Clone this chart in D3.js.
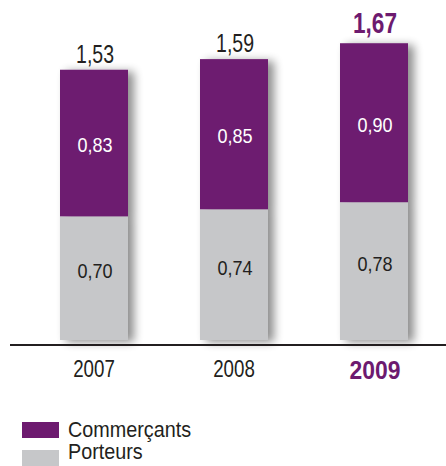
<!DOCTYPE html>
<html>
<head>
<meta charset="utf-8">
<script src="https://cdn.jsdelivr.net/npm/d3@7"></script>
<style>
  html, body { margin: 0; padding: 0; background: #fff; }
  svg { display: block; font-family: "Liberation Sans", Arial, sans-serif; }
</style>
</head>
<body>
<svg id="chart" width="446" height="466"></svg>
<script>
// Years, stacked series values (bottom to top) and totals
const years = ["2007", "2008", "2009"];
const porteurs = [0.70, 0.74, 0.78];
const commercants = [0.83, 0.85, 0.90];
const totals = [1.53, 1.59, 1.67];
const seriesNames = ["Commerçants", "Porteurs"];

const purple = "#6d1a6f";
const grey = "#c6c7c9";
const ink = "#231f20";

const svg = d3.select("#chart");
const W = 446;

const x = d3.scaleBand().domain(years).range([25, 443]).paddingInner(0.5143).paddingOuter(0.25);
const y = d3.scaleLinear().domain([0, 1.67]).range([340, 45]);

const fmt = v => d3.format(".2f")(v).replace(".", ",");

// condensed look: squeeze glyphs horizontally around the anchor point
function narrowText(sel, cx, cy, sx) {
  return sel.attr("x", 0).attr("y", 0)
    .attr("transform", (d, i) => `translate(${cx(d, i)},${cy(d, i)}) scale(${sx},1)`);
}

// soft shadow cast to the right of each bar
const defs = svg.append("defs");
const f = defs.append("filter").attr("id", "shadow")
  .attr("x", "-20%").attr("y", "-10%").attr("width", "160%").attr("height", "120%");
f.append("feGaussianBlur").attr("in", "SourceAlpha").attr("stdDeviation", 5).attr("result", "b");
f.append("feOffset").attr("in", "b").attr("dx", 6).attr("dy", 2).attr("result", "o");
f.append("feComponentTransfer").attr("in", "o").attr("result", "s")
  .append("feFuncA").attr("type", "linear").attr("slope", 0.45);
const m = f.append("feMerge");
m.append("feMergeNode").attr("in", "s");
m.append("feMergeNode").attr("in", "SourceGraphic");

const stackData = years.map((yr, i) => ({ year: yr, porteurs: porteurs[i], commercants: commercants[i] }));
const stack = d3.stack().keys(["porteurs", "commercants"])(stackData);
const colors = { porteurs: grey, commercants: purple };

const bars = svg.append("g").attr("filter", "url(#shadow)");
stack.forEach(layer => {
  bars.selectAll(null).data(layer).enter().append("rect")
    .attr("x", d => x(d.data.year))
    .attr("width", x.bandwidth())
    .attr("y", d => y(d[1]))
    .attr("height", d => y(d[0]) - y(d[1]))
    .attr("fill", colors[layer.key]);
});

// segment values
stack.forEach(layer => {
  const top = layer.key === "commercants";
  narrowText(
    svg.selectAll(null).data(layer).enter().append("text"),
    d => x(d.data.year) + x.bandwidth() / 2 + 1,
    d => (y(d[0]) + y(d[1])) / 2 + (top ? 9 : 0),
    0.86)
    .attr("text-anchor", "middle")
    .attr("font-size", 21)
    .attr("fill", top ? "#fff" : ink)
    .text(d => fmt(d.data[layer.key]));
});

// totals above bars
narrowText(
  svg.selectAll(null).data(years).enter().append("text"),
  d => x(d) + x.bandwidth() / 2 + 1,
  (d, i) => y(totals[i]) - (i === 2 ? 12 : 7),
  0.78)
  .attr("text-anchor", "middle")
  .attr("font-size", (d, i) => i === 2 ? 29 : 25)
  .attr("font-weight", (d, i) => i === 2 ? "bold" : "normal")
  .attr("fill", (d, i) => i === 2 ? purple : ink)
  .text((d, i) => fmt(totals[i]));

// baseline
svg.append("line").attr("x1", 10).attr("x2", W).attr("y1", 345).attr("y2", 345)
  .attr("stroke", ink).attr("stroke-width", 2);

// x axis labels
const xAxis = d3.axisBottom(x).tickSize(0).tickPadding(0);
const ax = svg.append("g").attr("transform", "translate(0,377)").call(xAxis);
ax.select(".domain").remove();
ax.selectAll("text")
  .attr("dy", 0).attr("y", 0)
  .attr("font-family", null)
  .attr("font-size", (d, i) => i === 2 ? 26 : 24)
  .attr("font-weight", (d, i) => i === 2 ? "bold" : "normal")
  .attr("fill", (d, i) => i === 2 ? purple : ink)
  .attr("transform", (d, i) => i === 2 ? "translate(1,2) scale(0.88,1)" : "scale(0.78,1)");

// legend
const legend = svg.append("g");
const legendColors = [purple, grey];
seriesNames.forEach((name, i) => {
  legend.append("rect").attr("x", 22).attr("y", 422 + i * 28).attr("width", 37).attr("height", 16)
    .attr("fill", legendColors[i]);
  legend.append("text")
    .attr("transform", `translate(68,${437 + i * 22}) scale(0.9,1)`)
    .attr("font-size", 22).attr("fill", ink).text(name);
});
</script>
</body>
</html>
